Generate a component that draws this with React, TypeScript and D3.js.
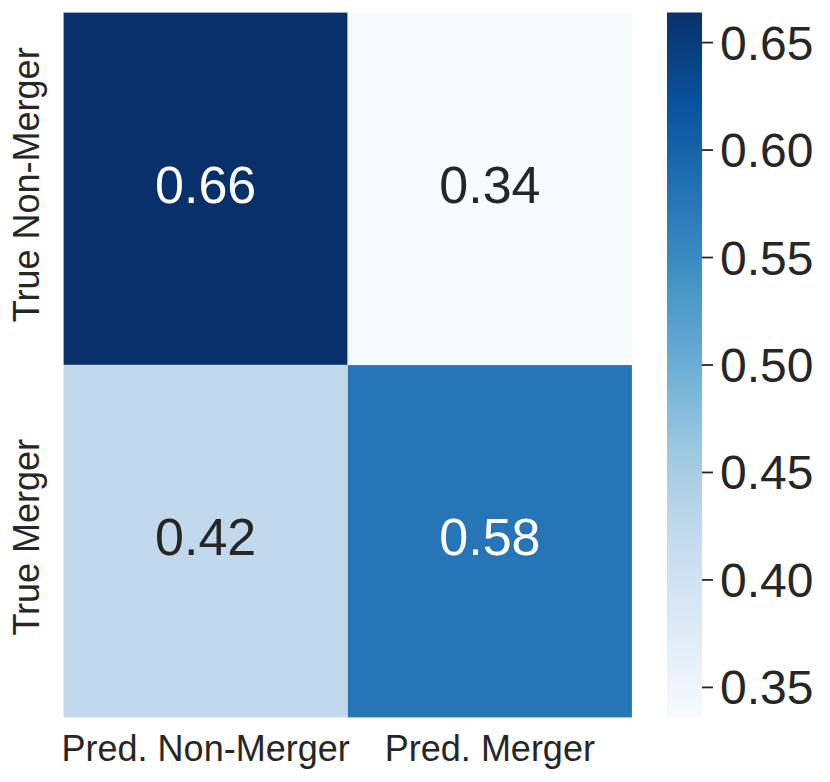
import * as d3 from "d3"

const ROWS = ["True Non-Merger", "True Merger"]
const COLS = ["Pred. Non-Merger", "Pred. Merger"]
const VALUES = [
  [0.664, 0.336],
  [0.4225, 0.5775],
]
const CBAR_TICKS = [0.35, 0.4, 0.45, 0.5, 0.55, 0.6, 0.65]
// matplotlib "Blues" colorbrewer stops (linear segments)
const BLUES = [
  "#f7fbff", "#deebf7", "#c6dbef", "#9ecae1", "#6baed6",
  "#4292c6", "#2171b5", "#08519c", "#08306b",
]

const W = 830
const H = 782
const FONT = "Arial, 'Liberation Sans', sans-serif"
const INK = "#262626"

export default function App() {
  const flat = VALUES.flat()
  const vmin = d3.min(flat) ?? 0
  const vmax = d3.max(flat) ?? 1

  const top = 12.5
  const bottom = 717.5
  const x = d3.scaleBand<string>().domain(COLS).range([63.5, 632])
  const y = d3.scaleBand<string>().domain(ROWS).range([top, bottom])

  const norm = d3.scaleLinear().domain([vmin, vmax]).range([0, 1]).clamp(true)
  const blues = d3
    .scaleLinear<string>()
    .domain(d3.range(BLUES.length).map((i) => i / (BLUES.length - 1)))
    .range(BLUES)
    .interpolate(d3.interpolateRgb)
  const color = (v: number) => blues(norm(v))

  const cbX0 = 667
  const cbX1 = 702
  const cbY = d3.scaleLinear().domain([vmin, vmax]).range([bottom, top])
  const stops = d3.range(41).map((i) => i / 40)

  return (
    <svg
      width={W}
      height={H}
      viewBox={`0 0 ${W} ${H}`}
      style={{ position: "absolute", left: 0, top: 0, background: "#fff" }}
      fontFamily={FONT}
    >
      <defs>
        <linearGradient id="cbar" x1="0" y1="1" x2="0" y2="0">
          {stops.map((t) => (
            <stop key={t} offset={t} stopColor={blues(t)} />
          ))}
        </linearGradient>
      </defs>

      {/* cells */}
      <g>
        {ROWS.map((r, i) =>
          COLS.map((c, j) => {
            const v = VALUES[i][j]
            const fill = color(v)
            const lum = d3.hsl(fill).l
            const cx = (x(c) ?? 0) + x.bandwidth() / 2
            const cy = (y(r) ?? 0) + y.bandwidth() / 2
            return (
              <g key={`${r}-${c}`}>
                <rect
                  x={x(c)}
                  y={y(r)}
                  width={x.bandwidth()}
                  height={y.bandwidth()}
                  fill={fill}
                  stroke="rgba(255,255,255,0.25)"
                  strokeWidth={0.8}
                />
                <text
                  x={cx}
                  y={cy + 14}
                  textAnchor="middle"
                  fontSize={52}
                  fill={lum < 0.5 ? "#ffffff" : INK}
                >
                  {d3.format(".2f")(v)}
                </text>
              </g>
            )
          })
        )}
      </g>

      {/* x tick labels */}
      {COLS.map((c) => (
        <text
          key={c}
          x={(x(c) ?? 0) + x.bandwidth() / 2}
          y={761}
          textAnchor="middle"
          fontSize={36}
          fill={INK}
        >
          {c}
        </text>
      ))}

      {/* y tick labels */}
      {ROWS.map((r) => {
        const cy = (y(r) ?? 0) + y.bandwidth() / 2 - 4
        return (
          <text
            key={r}
            transform={`translate(39,${cy}) rotate(-90)`}
            textAnchor="middle"
            fontSize={36}
            fill={INK}
          >
            {r}
          </text>
        )
      })}

      {/* colorbar */}
      <rect
        x={cbX0}
        y={top}
        width={cbX1 - cbX0}
        height={bottom - top}
        fill="url(#cbar)"
      />
      {CBAR_TICKS.map((t) => (
        <g key={t} transform={`translate(${cbX1},${cbY(t)})`}>
          <line x1={0} x2={11} stroke={INK} strokeWidth={1.8} />
          <text x={18} y={17} fontSize={48} fill={INK}>
            {d3.format(".2f")(t)}
          </text>
        </g>
      ))}
    </svg>
  )
}
